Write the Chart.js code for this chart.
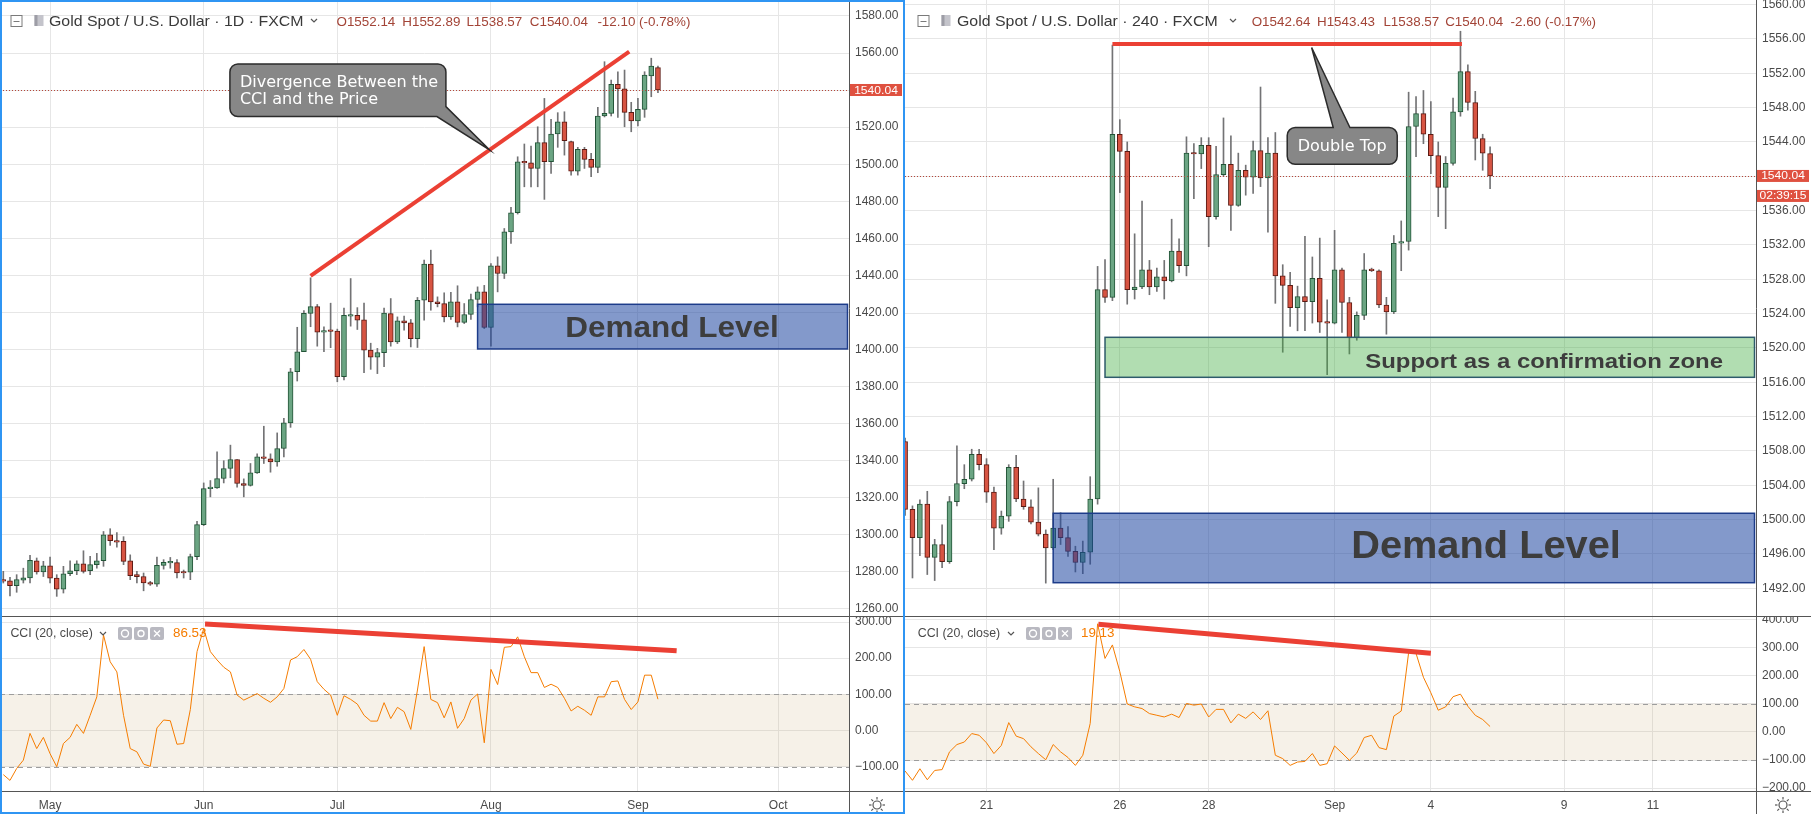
<!DOCTYPE html>
<html>
<head>
<meta charset="utf-8">
<title>Gold Spot / U.S. Dollar</title>
<script src="https://cdn.jsdelivr.net/npm/chart.js@4.4.1/dist/chart.umd.min.js"></script>
<style>
  html, body { margin: 0; padding: 0; background: #ffffff; }
  #wrap { position: relative; width: 1811px; height: 814px; overflow: hidden; background: #ffffff; }
  #wrap canvas { position: absolute; }
  #frame { position: absolute; left: 0; top: 0; width: 901px; height: 810px; border: 2px solid #2f95f3; pointer-events: none; }
</style>
</head>
<body>
<div id="wrap">
  <canvas id="leftPrice" width="904" height="616" style="left:0;top:0"></canvas>
  <canvas id="leftCci" width="904" height="198" style="left:0;top:616px"></canvas>
  <canvas id="rightPrice" width="906" height="616" style="left:905px;top:0"></canvas>
  <canvas id="rightCci" width="906" height="198" style="left:905px;top:616px"></canvas>
  <div id="frame"></div>
</div>
<script>
// ---------- left pane: daily candles ----------
const leftMonthTicks = [7, 30, 50, 73, 95, 116];
const leftMonthLabels = ['May', 'Jun', 'Jul', 'Aug', 'Sep', 'Oct'];
const leftPriceTicks = [1260, 1280, 1300, 1320, 1340, 1360, 1380, 1400, 1420, 1440, 1460, 1480, 1500, 1520, 1540, 1560, 1580];
const leftCciTicks = [-100, 0, 100, 200, 300];

const leftOpen = [1275.8, 1275.2, 1272.5, 1275.5, 1276.8, 1286.0, 1280.0, 1283.3, 1276.6, 1270.7,
  1279.0, 1280.6, 1284.4, 1280.6, 1283.9, 1286.0, 1300.0, 1296.8, 1296.5, 1286.0,
  1278.5, 1277.5, 1274.3, 1273.4, 1283.5, 1284.9, 1285.0, 1279.6, 1279.8, 1288.2,
  1305.5, 1324.9, 1325.3, 1330.4, 1335.8, 1340.6, 1327.7, 1326.6, 1333.4, 1342.1,
  1341.0, 1339.4, 1346.6, 1360.4, 1388.0, 1398.8, 1419.5, 1423.1, 1409.4, 1410.2,
  1410.0, 1385.3, 1418.0, 1418.4, 1416.0, 1399.7, 1395.8, 1398.3, 1419.4, 1404.1,
  1415.5, 1414.4, 1405.9, 1426.6, 1446.1, 1425.7, 1424.8, 1417.6, 1425.7, 1414.6,
  1418.9, 1427.0, 1431.1, 1411.9, 1445.2, 1441.0, 1463.5, 1473.8, 1501.3, 1500.7,
  1497.7, 1511.6, 1501.3, 1516.3, 1522.9, 1512.2, 1496.3, 1508.0, 1502.6, 1498.3,
  1526.0, 1527.4, 1543.1, 1540.6, 1528.0, 1523.3, 1529.6, 1547.6, 1552.14];
const leftHigh = [1280.3, 1277.0, 1278.5, 1282.0, 1289.0, 1287.5, 1285.7, 1288.0, 1278.5, 1283.0,
  1286.0, 1286.0, 1291.4, 1288.4, 1290.0, 1301.8, 1303.3, 1301.2, 1299.0, 1289.2,
  1280.3, 1279.4, 1274.9, 1288.0, 1286.6, 1287.8, 1286.6, 1281.0, 1289.6, 1307.3,
  1328.0, 1329.3, 1344.8, 1340.0, 1348.4, 1340.6, 1330.2, 1338.5, 1343.7, 1358.6,
  1343.7, 1355.0, 1362.8, 1389.8, 1412.0, 1421.0, 1438.7, 1424.3, 1412.3, 1425.0,
  1411.0, 1422.3, 1438.3, 1422.6, 1425.0, 1403.4, 1400.6, 1422.3, 1427.5, 1417.6,
  1418.0, 1416.2, 1428.1, 1448.2, 1453.6, 1428.4, 1430.6, 1430.8, 1434.4, 1424.8,
  1429.9, 1433.8, 1434.6, 1446.4, 1450.0, 1465.3, 1476.7, 1504.0, 1510.9, 1509.8,
  1520.2, 1535.5, 1524.2, 1527.8, 1528.3, 1512.5, 1509.1, 1509.1, 1505.8, 1530.7,
  1555.3, 1545.4, 1549.9, 1550.8, 1533.4, 1535.5, 1549.9, 1557.2, 1552.89];
const leftLow = [1274.0, 1267.0, 1269.0, 1274.0, 1274.0, 1278.8, 1277.5, 1274.0, 1266.8, 1268.6,
  1278.0, 1278.5, 1279.4, 1278.5, 1282.0, 1283.0, 1294.3, 1293.4, 1283.9, 1275.8,
  1274.0, 1269.8, 1272.7, 1272.2, 1281.5, 1282.0, 1276.7, 1276.7, 1275.8, 1286.6,
  1305.0, 1320.5, 1325.0, 1328.0, 1330.8, 1325.7, 1320.5, 1326.3, 1333.1, 1338.5,
  1333.8, 1337.0, 1342.0, 1358.0, 1383.0, 1398.8, 1412.3, 1401.8, 1398.8, 1401.0,
  1382.6, 1383.6, 1412.6, 1410.8, 1387.5, 1389.3, 1387.0, 1390.7, 1401.8, 1403.2,
  1410.4, 1401.4, 1401.1, 1415.8, 1421.2, 1423.0, 1414.9, 1416.2, 1412.2, 1414.0,
  1416.2, 1423.0, 1411.3, 1401.8, 1431.1, 1438.3, 1457.2, 1473.1, 1487.8, 1487.8,
  1487.8, 1481.0, 1495.0, 1509.1, 1504.9, 1494.1, 1494.1, 1497.7, 1493.2, 1495.4,
  1525.5, 1526.0, 1525.3, 1520.2, 1517.5, 1520.6, 1525.3, 1536.4, 1538.57];
const leftClose = [1275.0, 1272.5, 1275.8, 1276.8, 1286.2, 1280.0, 1283.3, 1276.6, 1270.7, 1279.0,
  1280.6, 1284.4, 1280.3, 1283.9, 1286.0, 1300.0, 1296.8, 1296.1, 1285.7, 1277.9,
  1277.4, 1274.0, 1273.4, 1283.5, 1285.1, 1285.1, 1279.4, 1279.4, 1288.2, 1305.5,
  1324.9, 1325.5, 1330.4, 1335.8, 1340.6, 1327.7, 1326.6, 1333.4, 1342.1, 1341.2,
  1339.4, 1346.6, 1360.4, 1388.0, 1398.8, 1419.5, 1423.1, 1409.4, 1409.6, 1409.8,
  1385.3, 1418.4, 1418.3, 1415.8, 1399.7, 1395.8, 1398.3, 1419.6, 1404.1, 1415.5,
  1414.4, 1405.9, 1426.6, 1446.1, 1425.7, 1424.8, 1417.6, 1425.7, 1414.6, 1418.9,
  1427.0, 1431.1, 1411.9, 1445.2, 1441.0, 1463.5, 1473.8, 1501.3, 1500.7, 1497.7,
  1511.6, 1501.3, 1516.3, 1522.9, 1512.7, 1496.3, 1508.0, 1502.6, 1498.3, 1526.0,
  1527.4, 1543.1, 1540.6, 1528.0, 1523.3, 1529.6, 1548.1, 1553.0, 1540.04];
const leftCci = [-122, -138, -105, -82, -8, -50, -19, -64, -100, -36,
  -19, 17, -8, 42, 93, 264, 190, 162, 42, -50,
  -59, -93, -99, 7, 29, 27, -38, -36, 58, 218,
  282, 218, 195, 175, 162, 98, 84, 93, 102, 89,
  78, 93, 116, 195, 204, 224, 197, 135, 114, 98,
  42, 96, 86, 73, 42, 26, 26, 77, 33, 64,
  52, 3, 112, 232, 86, 77, 35, 79, 6, 33,
  84, 101, -34, 169, 127, 230, 232, 259, 204, 160,
  160, 119, 128, 119, 89, 54, 67, 56, 42, 93,
  93, 135, 137, 86, 58, 79, 153, 153, 86.53];

// ---------- right pane: 4h candles ----------
const rightDayTicks = [11, 29, 41, 58, 71, 89, 101];
const rightDayLabels = ['21', '26', '28', 'Sep', '4', '9', '11'];
const rightPriceTicks = [1492, 1496, 1500, 1504, 1508, 1512, 1516, 1520, 1524, 1528, 1532, 1536, 1540, 1544, 1548, 1552, 1556, 1560];
const rightCciTicks = [-200, -100, 0, 100, 200, 300, 400];

const rightOpen = [1509.1, 1501.2, 1497.9, 1501.8, 1495.6, 1497.1, 1495.1, 1502.1, 1504.2, 1504.7,
  1507.6, 1506.4, 1503.2, 1499.0, 1500.4, 1506.1, 1502.4, 1501.5, 1499.7, 1498.3,
  1496.7, 1499.0, 1497.9, 1496.3, 1495.0, 1496.2, 1502.4, 1526.8, 1525.9, 1544.9,
  1542.9, 1526.8, 1527.1, 1529.1, 1527.1, 1528.3, 1527.8, 1531.3, 1529.6, 1542.7,
  1542.6, 1543.6, 1535.3, 1540.2, 1541.4, 1536.6, 1540.7, 1539.9, 1543.0, 1539.8,
  1542.7, 1528.4, 1527.3, 1524.7, 1526.0, 1525.4, 1528.1, 1523.0, 1522.9, 1529.1,
  1525.3, 1521.2, 1523.8, 1529.2, 1529.0, 1525.0, 1524.2, 1532.2, 1532.4, 1545.8,
  1547.3, 1544.9, 1542.4, 1538.7, 1541.5, 1547.5, 1552.2, 1548.6, 1544.4, 1542.64];
const rightHigh = [1509.5, 1501.6, 1502.3, 1503.3, 1497.7, 1499.4, 1502.7, 1508.6, 1506.4, 1508.2,
  1508.2, 1507.1, 1503.8, 1501.0, 1506.4, 1507.5, 1504.5, 1502.3, 1503.7, 1498.8,
  1504.7, 1500.8, 1499.2, 1496.9, 1497.5, 1505.0, 1529.5, 1530.3, 1555.3, 1546.6,
  1544.0, 1533.3, 1537.1, 1530.2, 1529.3, 1530.2, 1535.0, 1532.7, 1544.6, 1543.8,
  1544.5, 1544.5, 1543.5, 1546.8, 1544.7, 1542.7, 1541.3, 1544.1, 1550.4, 1544.5,
  1545.1, 1529.7, 1528.8, 1527.2, 1533.0, 1530.6, 1532.8, 1525.6, 1533.7, 1529.3,
  1525.9, 1524.2, 1531.0, 1529.3, 1529.1, 1525.9, 1533.1, 1534.8, 1549.8, 1549.3,
  1550.0, 1548.7, 1544.0, 1542.3, 1549.1, 1556.9, 1553.0, 1549.9, 1544.9, 1543.43];
const rightLow = [1500.5, 1493.2, 1495.8, 1493.6, 1492.9, 1494.4, 1494.9, 1501.6, 1503.6, 1504.5,
  1505.8, 1502.0, 1496.5, 1498.3, 1499.8, 1502.1, 1501.2, 1499.5, 1498.1, 1492.6,
  1496.5, 1497.1, 1495.7, 1493.9, 1493.7, 1494.8, 1501.8, 1525.3, 1525.5, 1538.1,
  1525.1, 1525.7, 1526.9, 1526.2, 1526.6, 1525.7, 1527.7, 1528.8, 1528.4, 1537.4,
  1540.9, 1531.8, 1535.0, 1540.0, 1533.7, 1536.5, 1537.8, 1538.0, 1538.8, 1533.5,
  1525.2, 1519.5, 1522.5, 1522.0, 1522.0, 1522.9, 1521.8, 1516.9, 1522.8, 1521.8,
  1519.3, 1520.9, 1523.3, 1528.9, 1524.7, 1521.6, 1524.0, 1529.0, 1531.4, 1542.3,
  1543.8, 1540.3, 1535.3, 1533.9, 1541.3, 1547.0, 1547.7, 1541.9, 1540.7, 1538.57];
const rightClose = [1501.2, 1497.9, 1501.8, 1495.6, 1497.1, 1495.1, 1502.1, 1504.2, 1504.7, 1507.6,
  1506.4, 1503.2, 1499.0, 1500.4, 1506.1, 1502.4, 1501.5, 1499.7, 1498.3, 1496.7,
  1499.0, 1497.9, 1496.3, 1495.0, 1496.2, 1502.4, 1526.8, 1525.9, 1544.9, 1542.9,
  1526.8, 1527.1, 1529.1, 1527.1, 1528.3, 1527.8, 1531.3, 1529.6, 1542.7, 1542.6,
  1543.6, 1535.3, 1540.2, 1541.4, 1536.6, 1540.7, 1539.9, 1543.0, 1539.8, 1542.7,
  1528.4, 1527.3, 1524.7, 1526.0, 1525.4, 1528.1, 1523.0, 1522.9, 1529.1, 1525.3,
  1521.2, 1523.8, 1529.1, 1529.0, 1525.0, 1524.2, 1532.2, 1532.4, 1545.8, 1547.3,
  1544.9, 1542.4, 1538.7, 1541.5, 1547.5, 1552.2, 1548.6, 1544.4, 1542.7, 1540.04];
const rightCci = [-139, -172, -131, -170, -137, -134, -71, -45, -36, -6,
  -12, -39, -77, -48, 33, -15, -24, -53, -77, -99,
  -45, -71, -91, -119, -83, 30, 384, 261, 309, 214,
  99, 89, 83, 65, 59, 53, 63, 51, 101, 95,
  99, 53, 80, 80, 32, 63, 48, 71, 44, 75,
  -83, -95, -119, -107, -105, -77, -119, -113, -50, -75,
  -101, -75, -20, -12, -56, -63, 56, 74, 281, 279,
  194, 139, 77, 89, 125, 134, 91, 59, 44, 19.13];

// drawn annotations (data coordinates)
const leftPriceTrend = [{ x: 46, y: 1439.7 }, { x: 93.7, y: 1560.7 }];
const leftCciTrend = [{ x: 30.2, y: 294.5 }, { x: 100.8, y: 220.5 }];
const rightPriceTrend = [{ x: 28, y: 1555.4 }, { x: 75.2, y: 1555.4 }];
const rightCciTrend = [{ x: 26.1, y: 382 }, { x: 71, y: 279 }];
const leftDemand = { from: 71, top: 1424.4, bottom: 1400.3, textAt: 100.1, label: 'Demand Level' };
const rightDemand = { from: 20, top: 1500.74, bottom: 1492.65, textAt: 78.45, label: 'Demand Level' };
const rightSupport = { from: 27, top: 1521.24, bottom: 1516.58, textAt: 86.3, label: 'Support as a confirmation zone' };
const leftNote = { tip: { x: 72.8, y: 1507.7 }, lines: ['Divergence Between the', 'CCI and the Price'] };
const rightNote = { tip: { x: 54.9, y: 1555.0 }, lines: ['Double Top'] };
const cciBandLevels = [100, -100];

const leftLegend = { title: 'Gold Spot / U.S. Dollar \u00b7 1D \u00b7 FXCM', values: ['O1552.14', 'H1552.89', 'L1538.57', 'C1540.04', '-12.10 (-0.78%)'] };
const rightLegend = { title: 'Gold Spot / U.S. Dollar \u00b7 240 \u00b7 FXCM', values: ['O1542.64', 'H1543.43', 'L1538.57', 'C1540.04', '-2.60 (-0.17%)'] };

// ---------- styling ----------
const FONT = '"Liberation Sans", Arial, sans-serif';
const NOTE_FONT = '"DejaVu Sans", Verdana, sans-serif';
const GRID = '#e6e6e6';
const AXIS = '#555555';
const TEXT = '#4a4a4a';
const UP = '#6ba583', DOWN = '#d75442', UP_BORDER = '#225437', DOWN_BORDER = '#5b1a13', WICK = '#737375';
const TREND = '#eb4034';
const CCI_COLOR = '#f57c00';
const VALUE_RED = '#a34437';
const LABEL_RED = '#df5140';

Chart.defaults.font.family = FONT;

function stretchText(ctx, text, x, y, sx, align) {
  ctx.save();
  ctx.translate(x, y);
  ctx.scale(sx, 1);
  ctx.textAlign = align || 'left';
  ctx.fillText(text, 0, 0);
  ctx.restore();
}

function chevron(ctx, x, y, color) {
  ctx.save();
  ctx.strokeStyle = color;
  ctx.lineWidth = 1.2;
  ctx.beginPath();
  ctx.moveTo(x, y);
  ctx.lineTo(x + 3, y + 3);
  ctx.lineTo(x + 6, y);
  ctx.stroke();
  ctx.restore();
}

function drawHeader(ctx, lg, pos) {
  ctx.save();
  ctx.strokeStyle = '#7a7a7a';
  ctx.lineWidth = 1;
  ctx.strokeRect(pos.btn + 0.5, 15.5, 11, 11);
  ctx.beginPath();
  ctx.moveTo(pos.btn + 3, 21.5);
  ctx.lineTo(pos.btn + 9, 21.5);
  ctx.stroke();
  ctx.fillStyle = '#c4c4cb';
  ctx.fillRect(pos.btn + 24, 15, 9, 11);
  ctx.fillStyle = '#9d9da6';
  ctx.fillRect(pos.btn + 24, 15, 3, 11);
  ctx.fillStyle = '#3a3a3a';
  ctx.font = '15px ' + FONT;
  stretchText(ctx, lg.title, pos.title, 26, 1.06);
  chevron(ctx, pos.chev, 19, '#555');
  ctx.fillStyle = VALUE_RED;
  ctx.font = '13px ' + FONT;
  lg.values.forEach((v, k) => stretchText(ctx, v, pos.values[k], 26, 1.03));
  ctx.restore();
}

function drawCciHeader(ctx, pos, value) {
  ctx.save();
  ctx.fillStyle = '#4a4a4a';
  ctx.font = '12px ' + FONT;
  stretchText(ctx, 'CCI (20, close)', pos.text, 21, 1.03);
  chevron(ctx, pos.chev, 16, '#555');
  for (let k = 0; k < 3; k++) {
    const bx = pos.icons + k * 16;
    ctx.fillStyle = '#b9b9c1';
    ctx.beginPath();
    ctx.roundRect(bx, 11, 14, 13, 2);
    ctx.fill();
    ctx.strokeStyle = '#ffffff';
    ctx.lineWidth = 1.4;
    ctx.beginPath();
    if (k < 2) {
      ctx.arc(bx + 7, 17.5, k === 0 ? 3.5 : 3, 0, Math.PI * 2);
    } else {
      ctx.moveTo(bx + 4, 14.5); ctx.lineTo(bx + 10, 20.5);
      ctx.moveTo(bx + 10, 14.5); ctx.lineTo(bx + 4, 20.5);
    }
    ctx.stroke();
  }
  ctx.fillStyle = CCI_COLOR;
  ctx.font = '13px ' + FONT;
  stretchText(ctx, value, pos.value, 21, 1.03);
  ctx.restore();
}

function drawSun(ctx, cx, cy) {
  ctx.save();
  ctx.strokeStyle = '#555';
  ctx.lineWidth = 1.2;
  ctx.beginPath();
  ctx.arc(cx, cy, 4, 0, Math.PI * 2);
  ctx.stroke();
  for (let k = 0; k < 8; k++) {
    const a = k * Math.PI / 4;
    ctx.beginPath();
    ctx.moveTo(cx + Math.cos(a) * 5.5, cy + Math.sin(a) * 5.5);
    ctx.lineTo(cx + Math.cos(a) * 8, cy + Math.sin(a) * 8);
    ctx.stroke();
  }
  ctx.restore();
}

function lastPriceLine(ctx, area, py) {
  ctx.save();
  ctx.strokeStyle = '#b5473a';
  ctx.lineWidth = 1;
  ctx.setLineDash([1, 2]);
  ctx.beginPath();
  ctx.moveTo(area.left, Math.round(py) + 0.5);
  ctx.lineTo(area.right, Math.round(py) + 0.5);
  ctx.stroke();
  ctx.restore();
}

function axisLabel(ctx, area, cy, text) {
  ctx.save();
  ctx.fillStyle = LABEL_RED;
  ctx.fillRect(area.right + 1, cy - 6, 52, 12);
  ctx.fillStyle = '#ffffff';
  ctx.font = '11px ' + FONT;
  ctx.textBaseline = 'middle';
  stretchText(ctx, text, area.right + 27, cy + 0.5, 1.1, 'center');
  ctx.restore();
}

function drawZone(ctx, area, xs, ys, z, st) {
  const x1 = xs.getPixelForValue(z.from), x2 = area.right - 1.5;
  const y1 = ys.getPixelForValue(z.top), y2 = ys.getPixelForValue(z.bottom);
  ctx.save();
  ctx.fillStyle = st.fill;
  ctx.fillRect(x1, y1, x2 - x1, y2 - y1);
  ctx.strokeStyle = st.stroke;
  ctx.lineWidth = 1.5;
  ctx.strokeRect(x1, y1, x2 - x1, y2 - y1);
  ctx.fillStyle = '#3d3d3d';
  ctx.font = 'bold ' + st.size + 'px ' + FONT;
  stretchText(ctx, z.label, xs.getPixelForValue(z.textAt), (y1 + y2) / 2 + st.dy, st.sx, 'center');
  ctx.restore();
}

function calloutPath(ctx, L, T, R, B, r, p) {
  ctx.beginPath();
  ctx.moveTo(L + r, T);
  if (p.side === 'top') {
    ctx.lineTo(p.a, T);
    ctx.lineTo(p.tx, p.ty);
    ctx.lineTo(p.b, T);
  }
  ctx.lineTo(R - r, T);
  ctx.arcTo(R, T, R, T + r, r);
  if (p.side === 'corner') {
    ctx.lineTo(R, p.ry);
    ctx.lineTo(p.tx, p.ty);
    ctx.lineTo(p.bx, B);
  } else {
    ctx.lineTo(R, B - r);
    ctx.arcTo(R, B, R - r, B, r);
  }
  ctx.lineTo(L + r, B);
  ctx.arcTo(L, B, L, B - r, r);
  ctx.lineTo(L, T + r);
  ctx.arcTo(L, T, L + r, T, r);
  ctx.closePath();
}

function paintCallout(ctx) {
  ctx.fillStyle = '#878787';
  ctx.fill();
  ctx.strokeStyle = '#2b2b2b';
  ctx.lineWidth = 1.5;
  ctx.stroke();
}

const cciBand = {
  id: 'cciBand',
  beforeDatasetsDraw(chart) {
    const { ctx, chartArea: a, scales: { y } } = chart;
    const t = y.getPixelForValue(cciBandLevels[0]), b = y.getPixelForValue(cciBandLevels[1]);
    ctx.save();
    ctx.fillStyle = 'rgba(200,170,120,0.17)';
    ctx.fillRect(a.left, t, a.right - a.left, b - t);
    ctx.strokeStyle = '#9d9d9d';
    ctx.lineWidth = 1;
    ctx.setLineDash([5, 4]);
    [t, b].forEach(yy => {
      ctx.beginPath();
      ctx.moveTo(a.left, Math.round(yy) + 0.5);
      ctx.lineTo(a.right, Math.round(yy) + 0.5);
      ctx.stroke();
    });
    ctx.restore();
  }
};

function paneFrame(chart) {
  const { ctx, chartArea: a, width } = chart;
  ctx.save();
  ctx.fillStyle = AXIS;
  ctx.fillRect(0, 0, width, 1);
  ctx.fillRect(0, Math.round(a.bottom), width, 1);
  ctx.fillRect(Math.round(a.right), a.bottom, 1, chart.height - a.bottom);
  ctx.restore();
}

function makePriceChart(id, p) {
  const isUp = i => p.close[i] >= p.open[i];
  return new Chart(document.getElementById(id), {
    type: 'bar',
    data: {
      datasets: [
        { type: 'line', data: p.trend, borderColor: TREND, borderWidth: 4, pointRadius: 0, order: 0 },
        {
          type: 'bar', data: p.open.map((o, i) => ({ x: i, y: [o, p.close[i]] })),
          grouped: false, barThickness: 5, minBarLength: 1.5, borderWidth: 1, borderSkipped: false,
          backgroundColor: c => isUp(c.dataIndex) ? UP : DOWN,
          borderColor: c => isUp(c.dataIndex) ? UP_BORDER : DOWN_BORDER,
          order: 1
        },
        {
          type: 'bar', data: p.low.map((l, i) => ({ x: i, y: [l, p.high[i]] })),
          grouped: false, barThickness: 1, borderWidth: 0, backgroundColor: WICK, order: 2
        }
      ]
    },
    options: {
      responsive: false, animation: false, events: [],
      layout: { padding: 0 },
      plugins: { legend: { display: false }, tooltip: { enabled: false } },
      scales: {
        x: {
          type: 'linear', min: p.xMin, max: p.xMax, offset: false,
          grid: { color: GRID, drawTicks: false, offset: false }, border: { display: false },
          ticks: { display: false },
          afterBuildTicks: s => { s.ticks = p.timeTicks.map(v => ({ value: v })); },
          afterFit: s => { s.height = 0; }
        },
        y: {
          type: 'linear', position: 'right', min: p.yMin, max: p.yMax,
          grid: { color: GRID, drawTicks: false }, border: { display: true, color: AXIS },
          ticks: { padding: 6, color: TEXT, font: { size: 12 }, autoSkip: false, callback: v => v.toFixed(2) },
          afterBuildTicks: s => { s.ticks = p.priceTicks.map(v => ({ value: v })); },
          afterFit: s => { s.width = 55; s.paddingTop = 0; s.paddingBottom = 0; }
        }
      }
    },
    plugins: [p.overlay]
  });
}

function makeCciChart(id, c) {
  return new Chart(document.getElementById(id), {
    type: 'line',
    data: {
      datasets: [
        { data: c.trend, borderColor: TREND, borderWidth: 5, pointRadius: 0, order: 0 },
        { data: c.values.map((v, i) => ({ x: i, y: v })), borderColor: CCI_COLOR, borderWidth: 1, pointRadius: 0, tension: 0, order: 1 }
      ]
    },
    options: {
      responsive: false, animation: false, events: [],
      layout: { padding: 0 },
      plugins: { legend: { display: false }, tooltip: { enabled: false } },
      scales: {
        x: {
          type: 'linear', min: c.xMin, max: c.xMax, offset: false,
          grid: { color: GRID, drawTicks: false }, border: { display: true, color: AXIS },
          ticks: { padding: 7, color: TEXT, font: { size: 12 }, maxRotation: 0, autoSkip: false,
            callback: v => c.timeLabels[c.timeTicks.indexOf(v)] },
          afterBuildTicks: s => { s.ticks = c.timeTicks.map(v => ({ value: v })); },
          afterFit: s => { s.height = 23; s.paddingLeft = 0; s.paddingRight = 0; }
        },
        y: {
          type: 'linear', position: 'right', min: c.yMin, max: c.yMax,
          grid: { color: GRID, drawTicks: false }, border: { display: true, color: AXIS },
          ticks: { padding: 6, color: TEXT, font: { size: 12 }, autoSkip: false,
            callback: v => (v < 0 ? '\u2212' : '') + Math.abs(v).toFixed(2) },
          afterBuildTicks: s => { s.ticks = c.ticks.map(v => ({ value: v })); },
          afterFit: s => { s.width = 55; s.paddingTop = 0; s.paddingBottom = 0; }
        }
      }
    },
    plugins: [cciBand, c.overlay]
  });
}

// ---------- overlays ----------
const leftPriceOverlay = {
  id: 'leftPriceOverlay',
  afterDatasetsDraw(chart) {
    const { ctx, chartArea: a, scales: { x, y } } = chart;
    lastPriceLine(ctx, a, y.getPixelForValue(leftClose[leftClose.length - 1]));
    drawZone(ctx, a, x, y, leftDemand, { fill: 'rgba(30,70,160,0.55)', stroke: '#1d3c8a', size: 30, sx: 1.05, dy: 10 });
    const tx = x.getPixelForValue(leftNote.tip.x), ty = y.getPixelForValue(leftNote.tip.y);
    const L = tx - 259.7, T = ty - 86, R = L + 216, B = T + 52.7;
    ctx.save();
    calloutPath(ctx, L, T, R, B, 8, { side: 'corner', ry: B - 10, bx: R - 9, tx, ty });
    paintCallout(ctx);
    ctx.fillStyle = '#ffffff';
    ctx.font = '15px ' + NOTE_FONT;
    stretchText(ctx, leftNote.lines[0], L + 10, T + 23.5, 1.07);
    stretchText(ctx, leftNote.lines[1], L + 10, T + 40.5, 1.07);
    ctx.restore();
  },
  afterDraw(chart) {
    const { ctx, chartArea: a, scales: { y } } = chart;
    drawHeader(ctx, leftLegend, { btn: 10.5, title: 49, chev: 311, values: [336.5, 402.3, 466.4, 529.8, 597.4] });
    axisLabel(ctx, a, y.getPixelForValue(leftClose[leftClose.length - 1]), leftClose[leftClose.length - 1].toFixed(2));
  }
};

const rightPriceOverlay = {
  id: 'rightPriceOverlay',
  afterDatasetsDraw(chart) {
    const { ctx, chartArea: a, scales: { x, y } } = chart;
    lastPriceLine(ctx, a, y.getPixelForValue(rightClose[rightClose.length - 1]));
    drawZone(ctx, a, x, y, rightSupport, { fill: 'rgba(60,170,60,0.4)', stroke: '#2e5b6b', size: 21, sx: 1.14, dy: 11 });
    drawZone(ctx, a, x, y, rightDemand, { fill: 'rgba(30,70,160,0.55)', stroke: '#1d3c8a', size: 39, sx: 1.02, dy: 10.3 });
    const tx = x.getPixelForValue(rightNote.tip.x), ty = y.getPixelForValue(rightNote.tip.y);
    const L = tx - 24.4, T = ty + 80, R = L + 110, B = T + 36.7;
    ctx.save();
    calloutPath(ctx, L, T, R, B, 8, { side: 'top', a: L + 46, b: L + 62.7, tx, ty });
    paintCallout(ctx);
    ctx.fillStyle = '#ffffff';
    ctx.font = '15px ' + NOTE_FONT;
    stretchText(ctx, rightNote.lines[0], (L + R) / 2, (T + B) / 2 + 5.5, 1.07, 'center');
    ctx.restore();
  },
  afterDraw(chart) {
    const { ctx, chartArea: a, scales: { y } } = chart;
    drawHeader(ctx, rightLegend, { btn: 12.5, title: 52, chev: 325, values: [346.7, 412, 478.4, 540.2, 605.5] });
    const py = y.getPixelForValue(rightClose[rightClose.length - 1]);
    axisLabel(ctx, a, py, rightClose[rightClose.length - 1].toFixed(2));
    axisLabel(ctx, a, py + 20, '02:39:15');
  }
};

const leftCciOverlay = {
  id: 'leftCciOverlay',
  afterDraw(chart) {
    paneFrame(chart);
    drawCciHeader(chart.ctx, { text: 10.4, chev: 100, icons: 118, value: 173 }, leftCci[leftCci.length - 1].toFixed(2));
    drawSun(chart.ctx, 877, 189);
  }
};

const rightCciOverlay = {
  id: 'rightCciOverlay',
  afterDraw(chart) {
    paneFrame(chart);
    drawCciHeader(chart.ctx, { text: 12.7, chev: 103, icons: 121, value: 176 }, rightCci[rightCci.length - 1].toFixed(2));
    drawSun(chart.ctx, 878, 189);
  }
};

// ---------- charts ----------
makePriceChart('leftPrice', {
  open: leftOpen, high: leftHigh, low: leftLow, close: leftClose,
  xMin: -0.494, xMax: 126.6, yMin: 1256.2, yMax: 1588.6,
  timeTicks: leftMonthTicks, priceTicks: leftPriceTicks, trend: leftPriceTrend, overlay: leftPriceOverlay
});
makeCciChart('leftCci', {
  values: leftCci, trend: leftCciTrend, ticks: leftCciTicks,
  xMin: -0.494, xMax: 126.6, yMin: -167.3, yMax: 316.6,
  timeTicks: leftMonthTicks, timeLabels: leftMonthLabels, overlay: leftCciOverlay
});
makePriceChart('rightPrice', {
  open: rightOpen, high: rightHigh, low: rightLow, close: rightClose,
  xMin: -0.01, xMax: 114.91, yMin: 1488.77, yMax: 1560.54,
  timeTicks: rightDayTicks, priceTicks: rightPriceTicks, trend: rightPriceTrend, overlay: rightPriceOverlay
});
makeCciChart('rightCci', {
  values: rightCci, trend: rightCciTrend, ticks: rightCciTicks,
  xMin: -0.01, xMax: 114.91, yMin: -210, yMax: 411.7,
  timeTicks: rightDayTicks, timeLabels: rightDayLabels, overlay: rightCciOverlay
});
</script>
</body>
</html>
